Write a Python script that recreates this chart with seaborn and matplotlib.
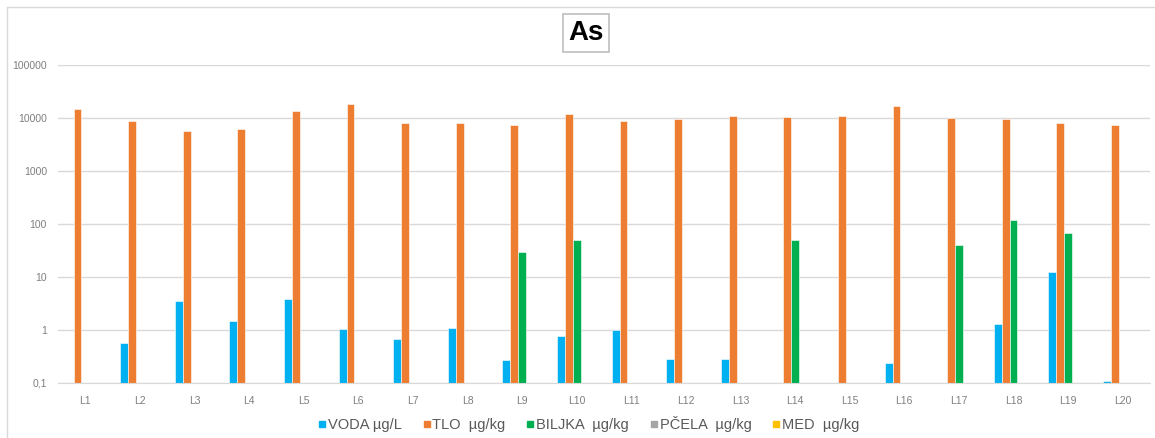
import pandas as pd
import numpy as np
import matplotlib.pyplot as plt
import seaborn as sns
from matplotlib.lines import Line2D

# Sampling sites
sites = ['L' + str(i) for i in range(1, 21)]

# Arsenic values per site (NaN = not shown / below range)
voda = [np.nan, 0.58, 3.6, 1.45, 3.9, 1.04, 0.69, 1.09, 0.27, 0.76,
        0.98, 0.285, 0.285, np.nan, np.nan, 0.24, np.nan, 1.27, 12.3, 0.108]
tlo = [14800, 8900, 5600, 6300, 13500, 18500, 8100, 8100, 7400, 11800,
       8900, 9600, 11000, 10400, 11000, 17000, 10200, 9500, 8100, 7400]
biljka = [np.nan, np.nan, np.nan, np.nan, np.nan, np.nan, np.nan, np.nan, 29, 50,
          np.nan, np.nan, np.nan, 50, np.nan, np.nan, 40, 117, 69, np.nan]
pcela = [np.nan] * 20
med = [np.nan] * 20

series_names = ['VODA µg/L', 'TLO  µg/kg', 'BILJKA  µg/kg', 'PČELA  µg/kg', 'MED  µg/kg']
series_colors = ['#00B0F0', '#ED7D31', '#00B050', '#A5A5A5', '#FFC000']
ytick_vals = [0.1, 1, 10, 100, 1000, 10000, 100000]
ytick_labels = ['0,1', '1', '10', '100', '1000', '10000', '100000']

# long format for seaborn
frames = []
for name, vals in zip(series_names, [voda, tlo, biljka, pcela, med]):
    frames.append(pd.DataFrame({'site': sites, 'value': vals, 'series': name}))
df = pd.concat(frames, ignore_index=True)

sns.set_style('white')
plt.rcParams['font.family'] = ['Liberation Sans', 'DejaVu Sans']

W, H = 1155, 438
fig = plt.figure(figsize=(W / 100, H / 100), dpi=100)
ax = fig.add_axes([58 / W, 1 - 383 / H, (1150 - 58) / W, (383 - 65) / H])

sns.barplot(data=df, x='site', y='value', hue='series', hue_order=series_names,
            order=sites, palette=series_colors, saturation=1, width=0.72, errorbar=None,
            edgecolor='white', linewidth=0.4, ax=ax, legend=False)

ax.set_yscale('log')
ax.set_ylim(0.1, 100000)
ax.set_xlim(-0.5, len(sites) - 0.5)
ax.set_yticks(ytick_vals)
ax.set_yticklabels(ytick_labels)
ax.yaxis.set_minor_locator(plt.NullLocator())
ax.grid(axis='y', color='#D9D9D9', linewidth=1)
ax.set_axisbelow(True)
for s in ['top', 'right', 'left']:
    ax.spines[s].set_visible(False)
ax.spines['bottom'].set_color('#D9D9D9')
ax.tick_params(axis='both', length=0, labelsize=7.5, colors='#7F7F7F', pad=8)
ax.tick_params(axis='x', pad=9)
ax.set_xlabel('')
ax.set_ylabel('')

# title in a box
fig.text(586 / W, 1 - 33 / H, 'As', ha='center', va='center', fontsize=20,
         fontweight='bold', color='black',
         bbox=dict(boxstyle='square,pad=0.2', facecolor='white', edgecolor='#BFBFBF', linewidth=1.2))

# legend
handles = [Line2D([0], [0], marker='s', linestyle='', markersize=4.5,
                  markerfacecolor=c, markeredgecolor=c) for c in series_colors]
fig.legend(handles, series_names, loc='center', bbox_to_anchor=(589 / W, 1 - 424 / H),
           ncol=5, frameon=False, fontsize=10.5, labelcolor='#595959',
           handlelength=0.5, handletextpad=0.15, columnspacing=1.45)

# chart border
fig.add_artist(Line2D([7 / W, 7 / W], [0, 1 - 7 / H], color='#D9D9D9', linewidth=1))
fig.add_artist(Line2D([7 / W, 1], [1 - 7 / H, 1 - 7 / H], color='#D9D9D9', linewidth=1))

fig.savefig('out.png', dpi=100)
